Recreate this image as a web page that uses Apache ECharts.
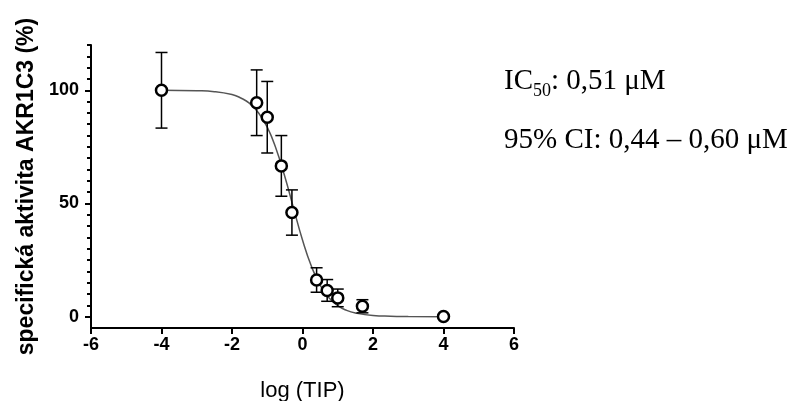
<!DOCTYPE html>
<html>
<head>
<meta charset="UTF-8">
<title></title>
<script src="https://cdn.jsdelivr.net/npm/echarts@6/dist/echarts.min.js"></script>
</head>
<body style="margin:0;background:#fff;">
<div id="chart" style="width:793px;height:401px;"></div>
<script type="text/javascript">
// measured points: log(TIP), activity %, SD
var pointX = [-4.0, -1.3, -1.0, -0.6, -0.3, 0.4, 0.7, 1.0, 1.7, 4.0];
var pointY = [100, 94.5, 88.1, 66.6, 46.0, 16.2, 11.6, 8.3, 4.6, 0.1];
var pointErr = [16.7, 14.5, 15.8, 13.4, 10.0, 5.4, 4.8, 3.9, 2.9, 0.6];

// fitted curve
var curveX = [-4, -3, -2.5, -2, -1.75, -1.5, -1.25, -1, -0.75, -0.5, -0.25, 0, 0.25, 0.5, 0.75, 1, 1.25, 1.5, 2, 2.5, 3, 4];
var curveY = [100, 99.8, 99.4, 98.1, 96.6, 94.2, 90.1, 83.7, 74.2, 61.8, 47.7, 33.9, 22.4, 13.9, 8.4, 4.9, 2.8, 1.6, 0.5, 0.2, 0.1, 0];

var yMajor = [0, 50, 100];
var yMinor = [5, 10, 15, 20, 25, 30, 35, 40, 45, 55, 60, 65, 70, 75, 80, 85, 90, 95, 105, 110, 115, 120];

var my_chart = echarts.init(document.getElementById('chart'));

var pts = pointX.map(function (x, i) { return [x, pointY[i]]; });
var bars = pointX.map(function (x, i) { return [x, pointY[i] - pointErr[i], pointY[i] + pointErr[i]]; });
var curve = curveX.map(function (x, i) { return [x, curveY[i]]; });

var sans = 'Liberation Sans, Arial, sans-serif';
var serif = 'Liberation Serif, Times New Roman, serif';

var option = {
	backgroundColor: '#fff',
	animation: false,
	title: [{
		text: '{a|IC}{s|50}{a|: 0,51 μM}',
		left: 504,
		top: 67,
		padding: 0,
		textStyle: {
			fontWeight: 'normal',
			rich: {
				a: { fontFamily: serif, fontSize: 29, fontWeight: 'normal', color: '#000' },
				s: { fontFamily: serif, fontSize: 18, fontWeight: 'normal', color: '#000', verticalAlign: 'bottom', padding: [0, 0, -4, 0] }
			}
		}
	}, {
		text: '95% CI: 0,44 – 0,60 μM',
		left: 504,
		top: 126,
		padding: 0,
		textStyle: { fontFamily: serif, fontSize: 29, fontWeight: 'normal', color: '#000' }
	}],
	grid: { left: 91, right: 279, top: 45, bottom: 73, outerBoundsMode: 'none' },
	xAxis: {
		type: 'value',
		min: -6,
		max: 6,
		interval: 2,
		name: 'log (TIP)',
		nameLocation: 'middle',
		nameGap: 52,
		nameTextStyle: { fontFamily: sans, fontSize: 22, color: '#000' },
		splitLine: { show: false },
		axisLine: { onZero: false, lineStyle: { color: '#000', width: 2 } },
		axisTick: { length: 6, lineStyle: { color: '#000', width: 2 } },
		axisLabel: { margin: 8, fontFamily: sans, fontSize: 18, fontWeight: 'bold', color: '#000' }
	},
	yAxis: [{
		type: 'value',
		min: -5,
		max: 120,
		position: 'left',
		name: 'specifická aktivita AKR1C3 (%)',
		nameLocation: 'middle',
		nameGap: 49,
		nameTextStyle: { fontFamily: sans, fontSize: 23, fontWeight: 'bold', color: '#000' },
		splitLine: { show: false },
		axisLine: { onZero: false, lineStyle: { color: '#000', width: 2 } },
		axisTick: { customValues: yMajor, length: 6, lineStyle: { color: '#000', width: 2 } },
		axisLabel: { customValues: yMajor, margin: 12, fontFamily: sans, fontSize: 18, fontWeight: 'bold', color: '#000' }
	}, {
		type: 'value',
		min: -5,
		max: 120,
		position: 'left',
		splitLine: { show: false },
		axisLine: { show: false, onZero: false },
		axisTick: { customValues: yMinor, length: 4, lineStyle: { color: '#000', width: 2 } },
		axisLabel: { show: false }
	}],
	series: [{
		type: 'line',
		data: curve,
		smooth: true,
		showSymbol: false,
		lineStyle: { color: '#555', width: 1.5 },
		z: 2
	}, {
		type: 'custom',
		data: bars,
		z: 3,
		renderItem: function (params, api) {
			var x = api.value(0);
			var lo = api.coord([x, api.value(1)]);
			var hi = api.coord([x, api.value(2)]);
			var cap = 6;
			var st = { stroke: '#000', lineWidth: 1.5 };
			return {
				type: 'group',
				children: [
					{ type: 'line', shape: { x1: lo[0], y1: lo[1], x2: hi[0], y2: hi[1] }, style: st },
					{ type: 'line', shape: { x1: lo[0] - cap, y1: lo[1], x2: lo[0] + cap, y2: lo[1] }, style: st },
					{ type: 'line', shape: { x1: hi[0] - cap, y1: hi[1], x2: hi[0] + cap, y2: hi[1] }, style: st }
				]
			};
		}
	}, {
		type: 'scatter',
		data: pts,
		symbol: 'circle',
		symbolSize: 11,
		itemStyle: { color: '#fff', borderColor: '#000', borderWidth: 2.5, opacity: 1 },
		z: 4
	}]
};
my_chart.setOption(option);
</script>
</body>
</html>
